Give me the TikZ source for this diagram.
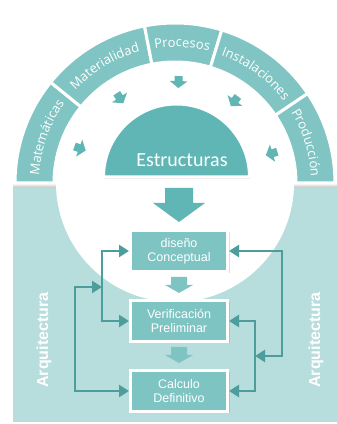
\documentclass[tikz,border=0pt]{standalone}
\usepackage{fontspec}
\setmainfont{Liberation Sans}
\newfontfamily\ringfont{Open Sans}
\newfontfamily\titlefont{Carlito}
\usetikzlibrary{arrows.meta}
\usetikzlibrary{positioning}
\usetikzlibrary{shadows}
\usetikzlibrary{decorations.text}

\begin{document}
\begin{tikzpicture}[x=1pt,y=1pt]
  \definecolor{ringteal}{RGB}{128,197,196}
  \definecolor{structteal}{RGB}{96,182,181}
  \definecolor{bgteal}{RGB}{183,222,221}
  \definecolor{boxteal}{RGB}{126,196,195}
  \definecolor{connteal}{RGB}{77,157,156}
  \tikzset{
    ringtext/.style={decorate,decoration={text along path,text align=center,
      text={|\color{white}\ringfont\fontsize{13}{15}\selectfont|#1}}},
    stepbox/.style={draw=white,line width=3pt,fill=boxteal,minimum width=97pt,minimum height=41pt,
      align=center,text=white,font=\fontsize{12.5}{14}\selectfont,
      drop shadow={opacity=0.25,shadow xshift=2pt,shadow yshift=-2pt}},
    conn/.style={draw=connteal,line width=2.4pt,-{Triangle[length=10pt,width=12pt]}},
    conntwo/.style={draw=connteal,line width=2.4pt,{Triangle[length=10pt,width=12pt]}-{Triangle[length=10pt,width=12pt]}},
    side/.style={rotate=90,text=white,font=\bfseries\fontsize{16}{18}\selectfont},
    inarrow/.pic={
      \fill[structteal] (-6,0) -- (1,9) -- (1,4) -- (6,4) -- (6,-4) -- (1,-4) -- (1,-9) -- cycle;
    },
  }
  \useasboundingbox (0,0) rectangle (337,424);
  \fill[bgteal] (13,2) rectangle (337,236);
  \shade[top color=white,bottom color=black!25] (13,236) rectangle (337,241);
  \fill[white] (175,241) circle (119);
  \begin{scope}[shift={(175,241)}]
    \foreach \a/\b in {180/141, 141/101, 101/73, 73/34, 34/0} {
      \filldraw[fill=ringteal,draw=white,line width=3pt] (\a:121) -- (\a:160) arc[start angle=\a,end angle=\b,radius=160] -- (\b:121) arc[start angle=\b,end angle=\a,radius=121] -- cycle;
    }
    \path[ringtext=Matemáticas] (178:136) arc[start angle=178,end angle=143,radius=136];
    \path[ringtext=Materialidad] (141:136) arc[start angle=141,end angle=101,radius=136];
    \path[ringtext=Procesos] (101:136) arc[start angle=101,end angle=73,radius=136];
    \path[ringtext=Instalaciones] (73:136) arc[start angle=73,end angle=34,radius=136];
    \path[ringtext=Producción] (34:136) arc[start angle=34,end angle=0,radius=136];
    \foreach \ang in {88,123,54,160,17} {
      \pic[rotate=\ang] at (\ang:101) {inarrow};
    }
  \end{scope}
  \filldraw[fill=structteal,draw=white,line width=3pt,drop shadow={opacity=0.2,shadow xshift=1pt,shadow yshift=-2pt}] (103.5,247) arc[start angle=180,end angle=0,radius=73] -- cycle;
  \node[text=white,font=\titlefont\fontsize{20}{24}\selectfont] (estruct) at (182,264) {Estructuras};
  \fill[structteal] (165,236) -- (193,236) -- (193,221) -- (205,221) -- (179,202) -- (153,221) -- (165,221) -- cycle;
  \node[stepbox] (diseno) at (179,173) {diseño\\Conceptual};
  \node[stepbox,below=26pt of diseno] (verif) {Verificación\\Preliminar};
  \node[stepbox,below=26pt of verif] (calculo) {Calculo\\Definitivo};
  \foreach \y in {147,77} {
    \fill[boxteal] (171,\y) -- (187,\y) -- (187,\y-8) -- (193,\y-8) -- (179,\y-16) -- (165,\y-8) -- (171,\y-8) -- cycle;
  }
  \coordinate (jl) at (102,137);
  \coordinate (lcorner) at (75,137);
  \coordinate (jr) at (255,68);
  \coordinate (rcorner) at (282,68);
  \draw[conn] (jl) |- (diseno.west);
  \draw[conn] (jl) |- (verif.west);
  \draw[conntwo] (calculo.west) -| (lcorner) -- (jl);
  \draw[conn] (jr) |- (verif.east);
  \draw[conn] (jr) |- (calculo.east);
  \draw[conntwo] (diseno.east) -| (rcorner) -- (jr);
  \node[side] (archleft) at (44,84) {Arquitectura};
  \node[side] (archright) at (316,84) {Arquitectura};
\end{tikzpicture}
\end{document}
